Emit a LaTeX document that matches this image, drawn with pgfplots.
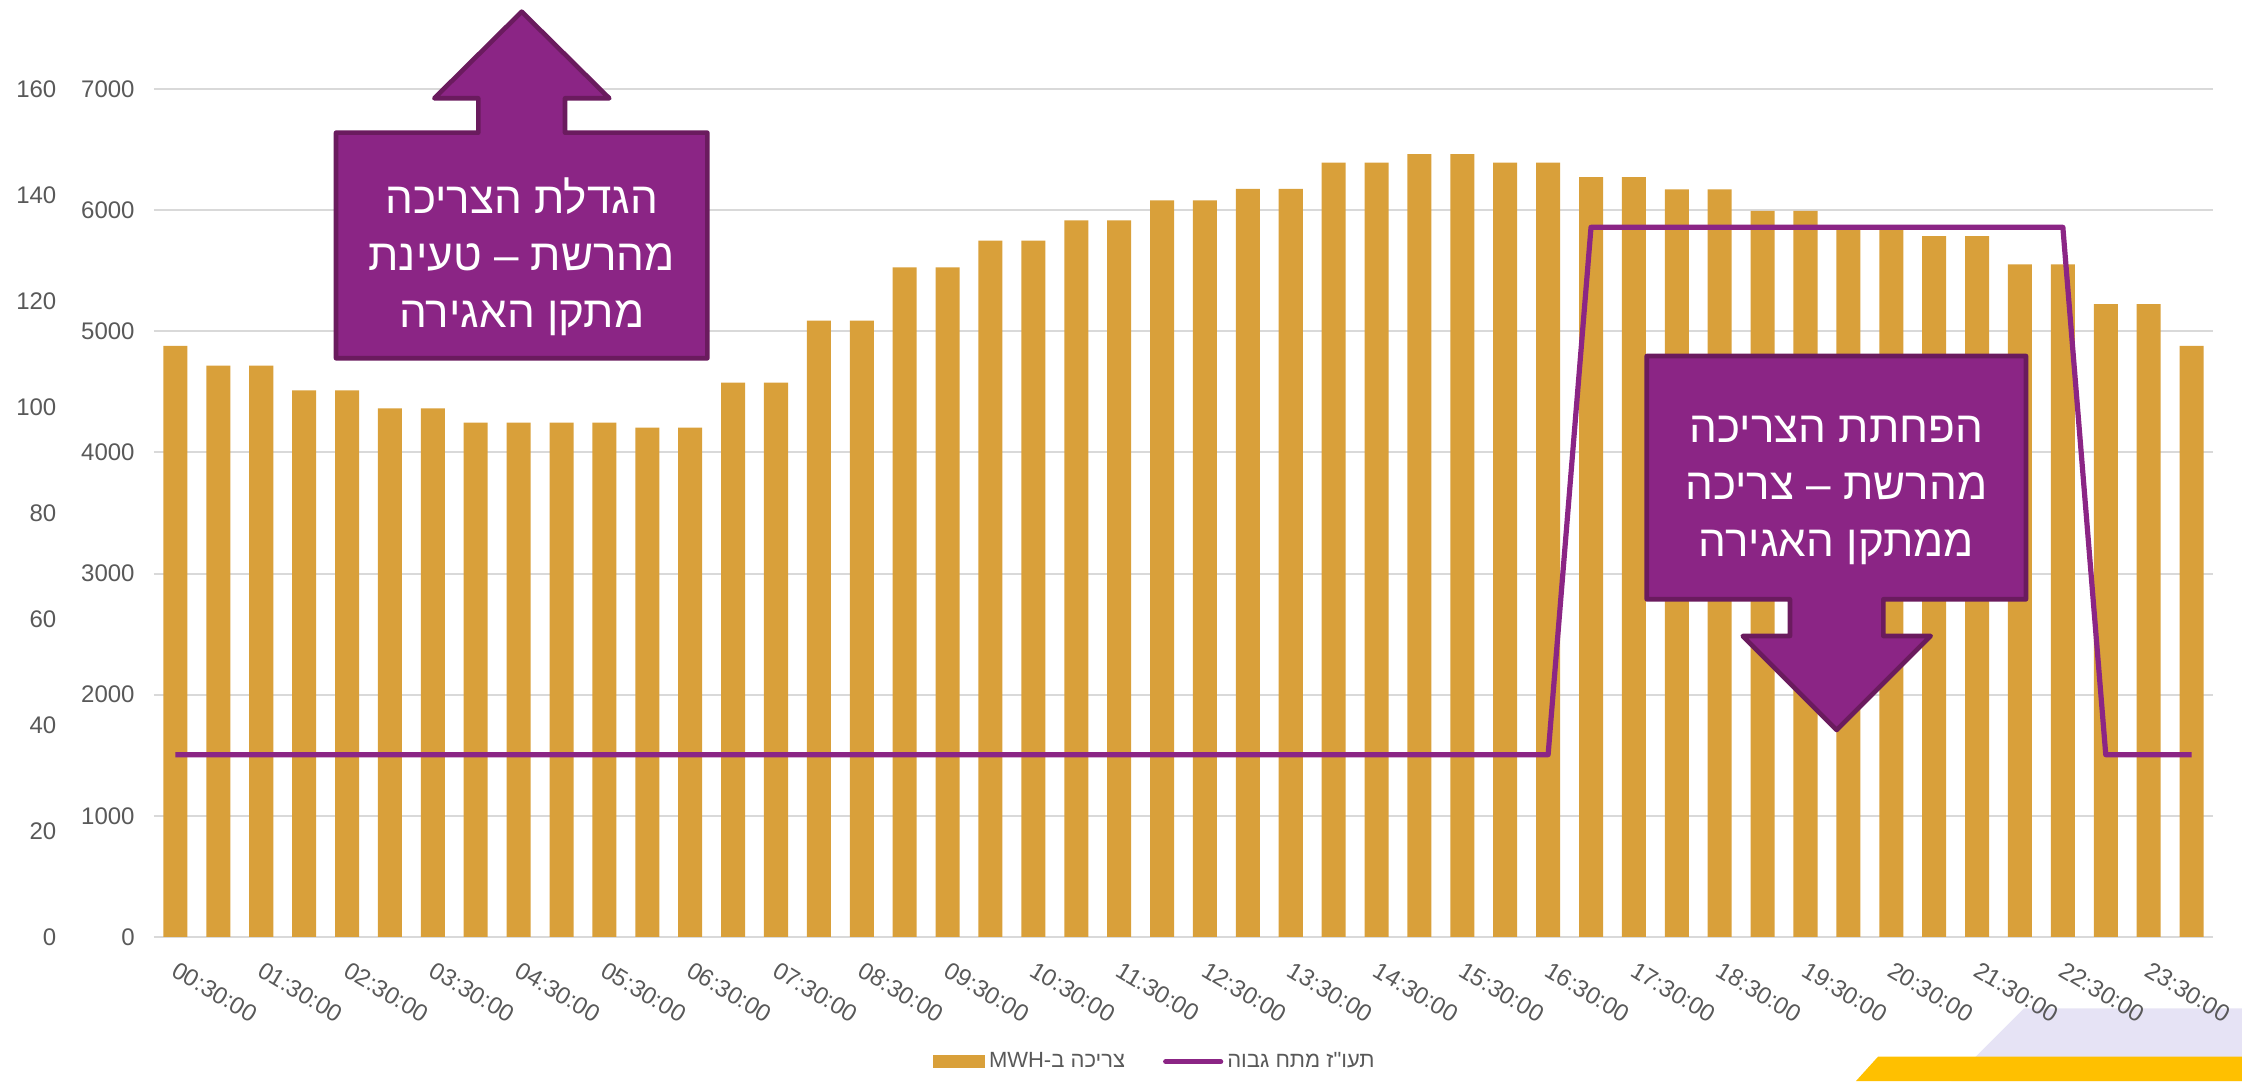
\documentclass[border=0pt]{standalone}
\usepackage{pgfplots}
\pgfplotsset{compat=1.18}
\usepackage{pgfplotstable}
\usepackage{fontspec}
\setmainfont{Liberation Sans}
\newfontfamily\hebfont[Script=Hebrew]{Liberation Sans}
\TeXXeTstate=1
\definecolor{barc}{HTML}{D9A03A}
\definecolor{purp}{HTML}{8B2585}
\definecolor{purpdark}{HTML}{6A1B5E}
\definecolor{gridc}{HTML}{D9D9D9}
\definecolor{tickc}{HTML}{595959}
\definecolor{lav}{HTML}{E6E3F5}
\definecolor{gold}{HTML}{FFC000}

\pgfplotstableread{
x y
1 4880
2 4717
3 4717
4 4512
5 4512
6 4363
7 4363
8 4245
9 4245
10 4245
11 4245
12 4205
13 4205
14 4577
15 4577
16 5088
17 5088
18 5528
19 5528
20 5749
21 5749
22 5915
23 5915
24 6080
25 6080
26 6176
27 6176
28 6392
29 6392
30 6462
31 6462
32 6392
33 6392
34 6272
35 6272
36 6172
37 6172
38 5994
39 5994
40 5843
41 5843
42 5786
43 5786
44 5553
45 5553
46 5224
47 5224
48 4879
}\demand

\pgfplotstableread{
x y
1 34.4
2 34.4
3 34.4
4 34.4
5 34.4
6 34.4
7 34.4
8 34.4
9 34.4
10 34.4
11 34.4
12 34.4
13 34.4
14 34.4
15 34.4
16 34.4
17 34.4
18 34.4
19 34.4
20 34.4
21 34.4
22 34.4
23 34.4
24 34.4
25 34.4
26 34.4
27 34.4
28 34.4
29 34.4
30 34.4
31 34.4
32 34.4
33 34.4
34 133.9
35 133.9
36 133.9
37 133.9
38 133.9
39 133.9
40 133.9
41 133.9
42 133.9
43 133.9
44 133.9
45 133.9
46 34.4
47 34.4
48 34.4
}\tariff

\begin{document}
\begin{tikzpicture}
\useasboundingbox (0pt,0pt) rectangle (1121pt,540.5pt);
% decorative shapes
\fill[lav] (975.65pt,0pt) -- (1012pt,36.35pt) -- (1121pt,36.35pt) -- (1121pt,0pt) -- cycle;
\fill[gold] (928pt,0pt) -- (939pt,12.15pt) -- (1121pt,12.15pt) -- (1121pt,0pt) -- cycle;

\begin{axis}[
  at={(77pt,72pt)}, anchor=south west, scale only axis,
  width=1029.5pt, height=424pt,
  xmin=0.5, xmax=48.5, ymin=0, ymax=7000,
  ytick={0,1000,...,7000},
  xtick={1,3,...,47},
  xticklabels={00:30:00,01:30:00,02:30:00,03:30:00,04:30:00,05:30:00,06:30:00,07:30:00,08:30:00,09:30:00,10:30:00,11:30:00,12:30:00,13:30:00,14:30:00,15:30:00,16:30:00,17:30:00,18:30:00,19:30:00,20:30:00,21:30:00,22:30:00,23:30:00},
  axis line style={draw=none},
  major tick length=0pt,
  ymajorgrids, grid style={gridc, line width=1pt},
  tick label style={font=\fontsize{12}{14}\selectfont, text=tickc},
  /pgf/number format/assume math mode=true,
  /pgf/number format/1000 sep={},
  scaled y ticks=false,
  yticklabel style={anchor=east, inner sep=0pt, xshift=-9.5pt},
  xticklabel style={rotate=-31, anchor=north west, inner sep=0pt, yshift=-9pt, xshift=7.5pt},
  legend columns=2,
  legend style={draw=none, fill=none, at={(0.4866,-0.147)}, anchor=center,
    font=\fontsize{11}{13}\selectfont, text=tickc,
    /tikz/every even column/.append style={column sep=17pt}},
]
\addplot[ybar, bar width=0.56, fill=barc, draw=none,
  legend image code/.code={\fill[barc] (0pt,-3.1pt) rectangle (25.9pt,3.1pt);}] table {\demand};
\addlegendentry{\hebfont\beginR צריכה ב-\beginL MWH\endL\endR}
\addlegendimage{purp, line width=2.5pt, line cap=round,
  legend image code/.code={\draw[purp, line width=2.6pt, line cap=round] (0pt,0pt) -- (27.5pt,0pt);}}
\addlegendentry{\hebfont\beginR תעו"ז מתח גבוה\endR}
\end{axis}

\begin{axis}[
  at={(77pt,72pt)}, anchor=south west, scale only axis,
  width=1029.5pt, height=424pt,
  xmin=0.5, xmax=48.5, ymin=0, ymax=160,
  ytick={0,20,...,160}, xtick=\empty,
  axis line style={draw=none},
  major tick length=0pt,
  tick label style={font=\fontsize{12}{14}\selectfont, text=tickc},
  /pgf/number format/assume math mode=true,
  yticklabel style={anchor=east, inner sep=0pt, xshift=-48.65pt},
]
\addplot[purp, line width=2.6pt, line join=round, mark=none] table {\tariff};
\end{axis}

% callouts
\draw[purpdark, line width=2.3pt, fill=purp, line join=round]
  (168pt,361.35pt) -- (168pt,474.15pt) -- (239.15pt,474.15pt) -- (239.15pt,491.35pt)
  -- (217.15pt,491.35pt) -- (260.85pt,534.65pt) -- (304.65pt,491.35pt) -- (282.5pt,491.35pt)
  -- (282.5pt,474.15pt) -- (353.65pt,474.15pt) -- (353.65pt,361.35pt) -- cycle;
\node[text=white, font=\fontsize{22}{28.5}\selectfont\hebfont, align=center, inner sep=0pt]
  at (260.85pt,412pt) {\beginR הגדלת הצריכה\endR\\\beginR מהרשת – טעינת\endR\\\beginR מתקן האגירה\endR};

\draw[purpdark, line width=2.3pt, fill=purp, line join=round]
  (823.35pt,362.5pt) -- (1013pt,362.5pt) -- (1013pt,240.85pt) -- (941.65pt,240.85pt)
  -- (941.65pt,222.5pt) -- (965.35pt,222.5pt) -- (918.35pt,175.5pt) -- (871.35pt,222.5pt)
  -- (895pt,222.5pt) -- (895pt,240.85pt) -- (823.35pt,240.85pt) -- cycle;
\node[text=white, font=\fontsize{22}{28.5}\selectfont\hebfont, align=center, inner sep=0pt]
  at (918.2pt,295.5pt) {\beginR הפחתת הצריכה\endR\\\beginR מהרשת – צריכה\endR\\\beginR ממתקן האגירה\endR};
\end{tikzpicture}
\end{document}
